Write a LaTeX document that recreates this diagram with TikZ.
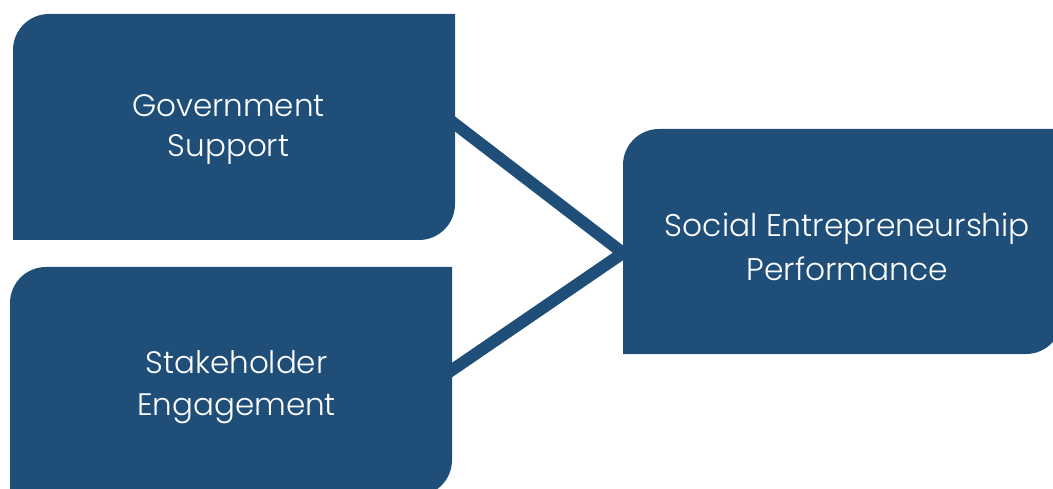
\documentclass[tikz,border=0pt]{standalone}
\usepackage{fontspec}
\setmainfont{Poppins Light}
\begin{document}
\definecolor{boxblue}{HTML}{1F4E79}
\begin{tikzpicture}[x=1pt,y=1pt,
  panel/.style={fill=boxblue},
  label/.style={text=white,align=center,anchor=base,inner sep=0pt},
  link/.style={draw=boxblue,line width=12pt,line join=miter}]
\useasboundingbox (0,0) rectangle (1053,488);

% connection points
\coordinate (gs-out) at (445.5,371.3);
\coordinate (se-out) at (442.1,111.2);
\coordinate (sep-in) at (623,235);

% connectors, drawn under the panels
\draw[link] (gs-out) -- (sep-in) -- (se-out);

% panels with rounded top-left and bottom-right corners
\fill[panel] (13,248) -- (13,438) arc[start angle=180,end angle=90,radius=36]
  -- (455,474) -- (455,284) arc[start angle=0,end angle=-90,radius=36] -- cycle;
\fill[panel] (10,-8) -- (10,185) arc[start angle=180,end angle=90,radius=36]
  -- (452,221) -- (452,28) arc[start angle=0,end angle=-90,radius=36] -- cycle;
\fill[panel] (623,134) -- (623,323) arc[start angle=180,end angle=90,radius=36]
  -- (1062,359) -- (1062,170) arc[start angle=0,end angle=-90,radius=36] -- cycle;

% labels (base anchor sits on the last line)
\node[label,font={\fontsize{31}{40}\selectfont}] (gs) at (228.5,331) {Government\\Support};
\node[label,font={\fontsize{31}{42}\selectfont}] (se) at (236.5,73) {Stakeholder\\Engagement};
\node[label,font={\fontsize{31.3}{44}\selectfont}] (sep) at (847.5,207) {Social Entrepreneurship\\Performance};
\end{tikzpicture}
\end{document}
